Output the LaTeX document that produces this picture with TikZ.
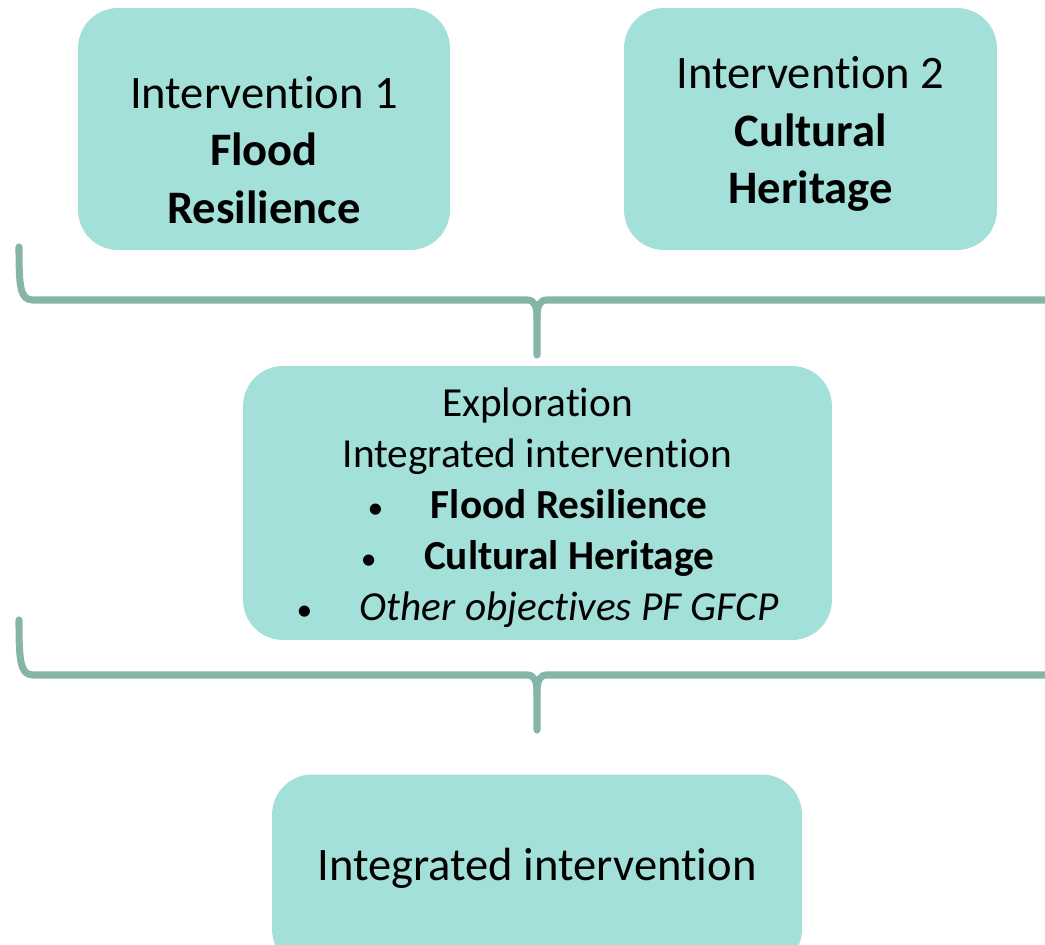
\documentclass[tikz,border=0pt]{standalone}
\usepackage{fontspec}
\setmainfont{Carlito}[Ligatures={NoCommon,NoRare}]
\definecolor{boxfill}{HTML}{A3E0D9}
\definecolor{bracecol}{HTML}{84B5A8}
\tikzset{
  box/.style={rectangle, rounded corners=0.8cm, fill=boxfill, inner sep=0pt},
  bigtext/.style={align=center, inner sep=0pt, font=\fontsize{26.5}{32.7}\selectfont},
  midtext/.style={align=center, inner sep=0pt, font=\fontsize{23.5}{29}\selectfont},
  brace/.style={draw=bracecol, line width=4pt, line join=round, line cap=round}
}
\newcommand{\bul}{{\fontsize{18}{18}\selectfont\textbullet}\hspace{0.95cm}}

\begin{document}
\begin{tikzpicture}[x=0.02cm,y=-0.02cm]
\useasboundingbox (0,0) rectangle (1045,945);

% the two separate interventions
\node[box, minimum width=7.44cm, minimum height=4.84cm] (int1) at (264,129) {};
\node[bigtext] (int1txt) at ([yshift=-0.42cm]int1.center)
  {Intervention 1\\\textbf{Flood}\\\textbf{Resilience}};
\node[box, minimum width=7.46cm, minimum height=4.84cm] (int2) at (810.5,129) {};
\node[bigtext] (int2txt) at ([yshift=-0.1cm]int2.center)
  {Intervention 2\\\textbf{Cultural}\\\textbf{Heritage}};

% exploration
\node[box, minimum width=11.78cm, minimum height=5.48cm] (expl) at (537.5,503) {};
\node[midtext] (expltxt) at ([yshift=-0.1cm]expl.center)
  {Exploration\\Integrated intervention\\
   \bul\textbf{Flood Resilience}\\
   \bul\textbf{Cultural Heritage}\\
   \bul\textit{Other objectives PF GFCP}};

% result
\node[box, minimum width=10.6cm, minimum height=3.9cm] (integ) at (537,872) {};
\node[bigtext] (integtxt) at (537,868) {Integrated intervention};

% braces, right half runs off the page
\def\bracepath#1#2{
  \draw[brace] (19,#1) .. controls (19,#1+40) and (20,#2) .. (33,#2)
    -- (527,#2) .. controls (534,#2) and (537,#2+5) .. (537,#2+18) -- (537,#2+55);
  \draw[brace] (1060,#2) -- (547,#2) .. controls (540,#2) and (537,#2+5) .. (537,#2+18);
}
\bracepath{247}{300}
\bracepath{620}{675}
\end{tikzpicture}
\end{document}
